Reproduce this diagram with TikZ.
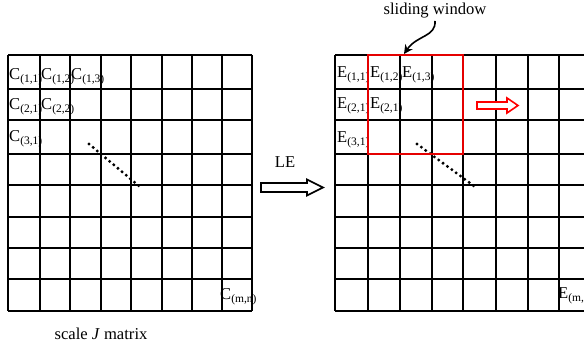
\documentclass[tikz,border=0pt]{standalone}
\usepackage{fontspec}
\setmainfont{Liberation Serif}
\usetikzlibrary{arrows.meta}
\newcommand{\cellsub}[2]{#1\raisebox{-2.6pt}{\fontsize{11.5}{12}\selectfont(#2)}}
\tikzset{
  gridline/.style={line width=1.9pt, black},
  lbl/.style={anchor=base west, inner sep=0pt, font=\fontsize{16.6}{18}\selectfont},
  txt/.style={inner sep=0pt, font=\fontsize{16.6}{18}\selectfont},
  dotline/.style={line width=3.3pt, line cap=round, dash pattern=on 0pt off 5.4pt},
  hollowarrow/.style={line width=1.6pt, fill=white, line join=miter},
  window/.style={line width=2pt, red!90!black}
}
\begin{document}
\begin{tikzpicture}[x=1pt,y=-1pt]
\useasboundingbox (0,0) rectangle (584,347);
\clip (0,0) rectangle (584,347);
% left grid
\foreach \x in {8,40,70,101,131,162,192,222,252}
  \draw[gridline] (\x,55) -- (\x,311);
\foreach \y in {55,89,120,154,185,217,248,279,311}
  \draw[gridline] (8,\y) -- (252,\y);
% right grid
\foreach \x in {335,368,400,432,463,496,528,559,591}
  \draw[gridline] (\x,55) -- (\x,311);
\foreach \y in {55,89,120,154,185,217,248,279,311}
  \draw[gridline] (335,\y) -- (595,\y);
% left labels
\node[lbl] (c11) at (9,80) {\cellsub{C}{1,1}};
\node[lbl] (c12) at (41,80) {\cellsub{C}{1,2}};
\node[lbl] (c13) at (71,80) {\cellsub{C}{1,3}};
\node[lbl] (c21) at (9,110) {\cellsub{C}{2,1}};
\node[lbl] (c22) at (41,110) {\cellsub{C}{2,2}};
\node[lbl] (c31) at (9,142) {\cellsub{C}{3,1}};
\node[lbl] (cmn) at (220,300) {\cellsub{C}{m,n}};
% right labels
\node[lbl] (e11) at (337,78) {\cellsub{E}{1,1}};
\node[lbl] (e12) at (370,78) {\cellsub{E}{1,2}};
\node[lbl] (e13) at (402,78) {\cellsub{E}{1,3}};
\node[lbl] (e21) at (337,109) {\cellsub{E}{2,1}};
\node[lbl] (e21b) at (370,109) {\cellsub{E}{2,1}};
\node[lbl] (e31) at (337,143) {\cellsub{E}{3,1}};
\node[lbl] (emn) at (558,299) {\cellsub{E}{m,n}};
% dotted diagonals
\coordinate (dl1) at (89,144);
\coordinate (dl2) at (139,186);
\draw[dotline] (dl1) -- (dl2);
\coordinate (dr1) at (417,144);
\coordinate (dr2) at (474,186);
\draw[dotline] (dr1) -- (dr2);
% sliding window
\draw[window] (368,55) rectangle (463,154);
\coordinate (wintop) at (404,54);
\node[txt, anchor=base] (sw) at (435,15) {sliding window};
\draw[line width=1.6pt, -{Stealth[length=9pt,width=9pt]}] (435,21) .. controls (436,37) and (417,35) .. (wintop);
% LE arrow
\node[txt, anchor=base] (le) at (285,168) {LE};
\draw[hollowarrow] (261,183) -- (307,183) -- (307,179.5) -- (323,187.5) -- (307,195.5) -- (307,192) -- (261,192) -- cycle;
% red arrow
\draw[hollowarrow, draw=red] (477,102) -- (507,102) -- (507,98) -- (518,105.5) -- (507,113) -- (507,109) -- (477,109) -- cycle;
% caption
\node[txt, anchor=base] (cap) at (101,340) {scale \textit{J} matrix};
\end{tikzpicture}
\end{document}
